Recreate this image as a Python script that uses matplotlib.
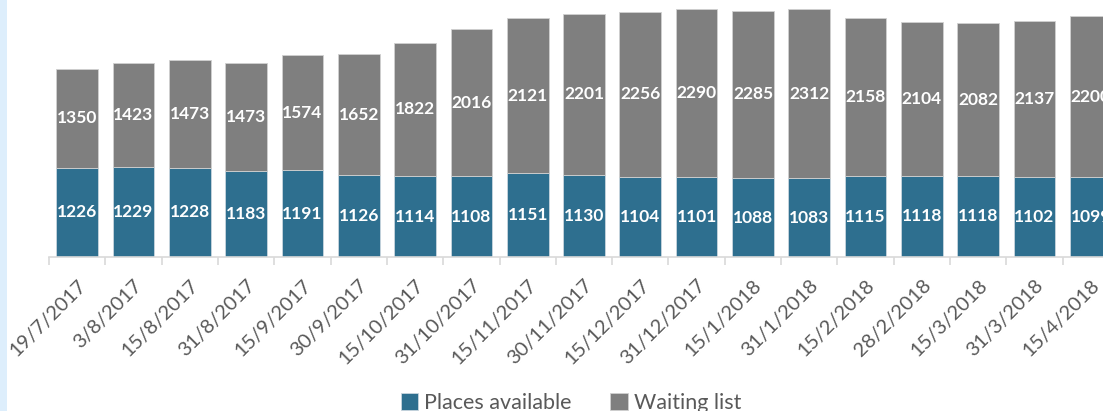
import matplotlib
matplotlib.use("Agg")
import matplotlib.pyplot as plt
from matplotlib.patches import Rectangle
import numpy as np

dates = ["19/7/2017", "3/8/2017", "15/8/2017", "31/8/2017", "15/9/2017",
         "30/9/2017", "15/10/2017", "31/10/2017", "15/11/2017", "30/11/2017",
         "15/12/2017", "31/12/2017", "15/1/2018", "31/1/2018", "15/2/2018",
         "28/2/2018", "15/3/2018", "31/3/2018", "15/4/2018"]
places = [1226, 1229, 1228, 1183, 1191, 1126, 1114, 1108, 1151, 1130,
          1104, 1101, 1088, 1083, 1115, 1118, 1118, 1102, 1099]
waiting = [1350, 1423, 1473, 1473, 1574, 1652, 1822, 2016, 2121, 2201,
           2256, 2290, 2285, 2312, 2158, 2104, 2082, 2137, 2200]

blue = "#2E6F8F"
grey = "#7F7F7F"
plt.rcParams["font.family"] = ["Lato", "DejaVu Sans"]

W, H = 1103, 411
fig = plt.figure(figsize=(W / 100, H / 100), dpi=100)
fig.patches.append(Rectangle((0, 0), 7 / W, 1, transform=fig.transFigure,
                             facecolor="#DDEEFC", edgecolor="none", zorder=0))

ax = fig.add_axes([49 / W, 153.7 / H, 1070 / W, 255.8 / H])
x = np.arange(len(dates))
b1 = ax.bar(x, places, width=0.74, color=blue, edgecolor="#C9D6DE", linewidth=0.6, label="Places available")
b2 = ax.bar(x, waiting, width=0.74, bottom=places, color=grey, edgecolor="#D0D0D0", linewidth=0.6, label="Waiting list")

for i in range(len(dates)):
    ax.text(x[i], places[i] / 2, str(places[i]), ha="center", va="center",
            color="white", fontsize=12.5, fontweight="bold")
    ax.text(x[i], places[i] + waiting[i] / 2, str(waiting[i]), ha="center", va="center",
            color="white", fontsize=12.5, fontweight="bold")

ax.set_xlim(-0.5, len(dates) - 0.5)
ax.set_ylim(0, 3500)
ax.set_yticks([])
for s in ["top", "right", "left"]:
    ax.spines[s].set_visible(False)
ax.spines["bottom"].set_color("#D9D9D9")
ax.spines["bottom"].set_linewidth(1.2)

ax.set_xticks(x)
ax.set_xticklabels(dates, rotation=45, ha="right", rotation_mode="anchor",
                   fontsize=14.5, color="#595959")
ax.tick_params(axis="x", which="major", length=0, pad=14)
ax.set_xticks(np.arange(len(dates) + 1) - 0.5, minor=True)
ax.tick_params(axis="x", which="minor", length=6, color="#D9D9D9", width=1.2)

fig.legend(handles=[b1, b2], loc="center", bbox_to_anchor=(571 / W, 1 - 403 / H),
           ncol=2, frameon=False, fontsize=15.5, labelcolor="#595959",
           handlelength=0.8, handleheight=0.8, handletextpad=0.3, columnspacing=1.8)

fig.savefig("out.png", dpi=100)
